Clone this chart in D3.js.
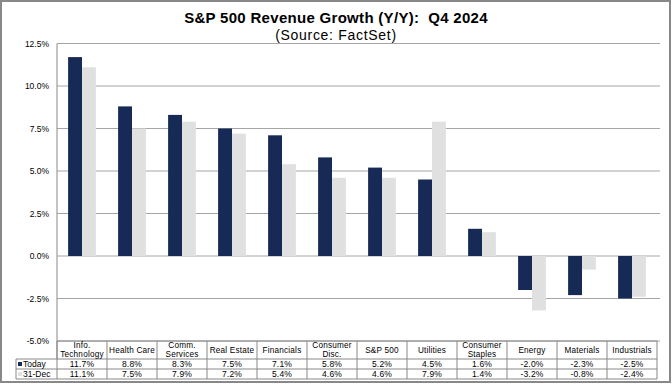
<!DOCTYPE html>
<html>
<head>
<meta charset="utf-8">
<script src="https://cdn.jsdelivr.net/npm/d3@7"></script>
<style>
  body { margin: 0; background: #fff; }
  svg text { font-family: "Liberation Sans", Arial, sans-serif; fill: #000; }
</style>
</head>
<body>
<svg id="chart"></svg>
<script>
// data
var categories = ['Info.|Technology', 'Health Care', 'Comm.|Services', 'Real Estate', 'Financials',
    'Consumer|Disc.', 'S&P 500', 'Utilities', 'Consumer|Staples', 'Energy', 'Materials', 'Industrials'];
var today = [11.7, 8.8, 8.3, 7.5, 7.1, 5.8, 5.2, 4.5, 1.6, -2.0, -2.3, -2.5];
var dec31 = [11.1, 7.5, 7.9, 7.2, 5.4, 4.6, 4.6, 7.9, 1.4, -3.2, -0.8, -2.4];
var seriesNames = ['Today', '31-Dec'];
var yTicks = [-5, -2.5, 0, 2.5, 5, 7.5, 10, 12.5];

var W = 672, H = 384;
var navy = '#172a55', light = '#e0e0e0';

function pct(v){ return v.toFixed(1) + '%'; }

var svg = d3.select('#chart').attr('width', W).attr('height', H);

// outer frame
svg.append('rect')
    .attr('x', 1).attr('y', 1)
    .attr('width', W - 3).attr('height', H - 3)
    .attr('fill', '#fff')
    .attr('stroke', '#888')
    .attr('stroke-width', 2);

// titles
svg.append('text')
    .attr('x', W / 2).attr('y', 23)
    .attr('text-anchor', 'middle')
    .style('font-size', '15px').style('font-weight', 'bold')
    .style('letter-spacing', '0.3px')
    .style('white-space', 'pre')
    .text('S&P 500 Revenue Growth (Y/Y):  Q4 2024');
svg.append('text')
    .attr('x', W / 2).attr('y', 40)
    .attr('text-anchor', 'middle')
    .style('font-size', '14px')
    .style('letter-spacing', '0.7px')
    .text('(Source: FactSet)');

var y = d3.scaleLinear().domain([-5, 12.5]).range([341, 43.5]);
var x = d3.scaleBand().domain(d3.range(categories.length)).range([57, 657]);
var x1 = d3.scaleBand().domain([0, 1]).range([0, x.bandwidth()]).paddingOuter(0.8).paddingInner(0);

// gridlines
svg.append('g').selectAll('line')
    .data(yTicks)
    .enter().append('line')
    .attr('x1', 57).attr('x2', 660)
    .attr('y1', function(d){ return y(d); })
    .attr('y2', function(d){ return y(d); })
    .attr('stroke', '#a6a6a6')
    .attr('stroke-width', 1);

// y labels
svg.append('g').selectAll('text')
    .data(yTicks)
    .enter().append('text')
    .attr('x', 49)
    .attr('y', function(d){ return y(d) + 3; })
    .attr('text-anchor', 'end')
    .style('font-size', '8.5px')
    .text(pct);

// bars
var groups = svg.append('g').selectAll('g')
    .data(categories.map(function(c, i){ return [today[i], dec31[i]]; }))
    .enter().append('g')
    .attr('transform', function(d, i){ return 'translate(' + x(i) + ',0)'; });

groups.selectAll('rect')
    .data(function(d){ return d; })
    .enter().append('rect')
    .attr('x', function(d, j){ return x1(j); })
    .attr('width', x1.bandwidth())
    .attr('y', function(d){ return y(Math.max(0, d)); })
    .attr('height', function(d){ return Math.abs(y(d) - y(0)); })
    .attr('fill', function(d, j){ return j == 0 ? navy : light; });

// left axis line
svg.append('line')
    .attr('x1', 57).attr('x2', 57)
    .attr('y1', y(12.5)).attr('y2', 359)
    .attr('stroke', '#888').attr('stroke-width', 1);

// data table
var tbl = svg.append('g');
var rowTop = [341, 359, 369, 379];
var lineCol = '#888';

tbl.append('line').attr('x1', 57).attr('x2', 657).attr('y1', rowTop[0]).attr('y2', rowTop[0])
    .attr('stroke', lineCol);
[1, 2, 3].forEach(function(r){
    tbl.append('line').attr('x1', 16).attr('x2', 657)
        .attr('y1', rowTop[r]).attr('y2', rowTop[r])
        .attr('stroke', lineCol);
});
d3.range(categories.length + 1).forEach(function(i){
    var xx = i < categories.length ? x(i) : 657;
    tbl.append('line')
        .attr('x1', xx).attr('x2', xx)
        .attr('y1', rowTop[0]).attr('y2', rowTop[3])
        .attr('stroke', lineCol);
});
tbl.append('line').attr('x1', 16).attr('x2', 16).attr('y1', rowTop[1]).attr('y2', rowTop[3])
    .attr('stroke', lineCol);

// header text
categories.forEach(function(c, i){
    var lines = c.split('|');
    var cx = x(i) + x.bandwidth() / 2;
    var t = tbl.append('text')
        .attr('text-anchor', 'middle')
        .style('font-size', '8.2px')
        .style('letter-spacing', '0.2px');
    if (lines.length == 1) {
        t.append('tspan').attr('x', cx).attr('y', 353).text(lines[0]);
    } else {
        t.append('tspan').attr('x', cx).attr('y', 347.5).text(lines[0]);
        t.append('tspan').attr('x', cx).attr('y', 357).text(lines[1]);
    }
});

// value rows
[today, dec31].forEach(function(vals, r){
    var base = rowTop[r + 1] + 8;
    tbl.append('rect')
        .attr('x', 18).attr('y', base - 5)
        .attr('width', 4).attr('height', 4)
        .attr('fill', r == 0 ? navy : light);
    tbl.append('text')
        .attr('x', 23).attr('y', base)
        .style('font-size', '8.5px')
        .text(seriesNames[r]);
    vals.forEach(function(v, i){
        tbl.append('text')
            .attr('x', x(i) + x.bandwidth() / 2)
            .attr('y', base)
            .attr('text-anchor', 'middle')
            .style('font-size', '8.5px')
            .style('letter-spacing', '0.2px')
            .text(pct(v));
    });
});
</script>
</body>
</html>
